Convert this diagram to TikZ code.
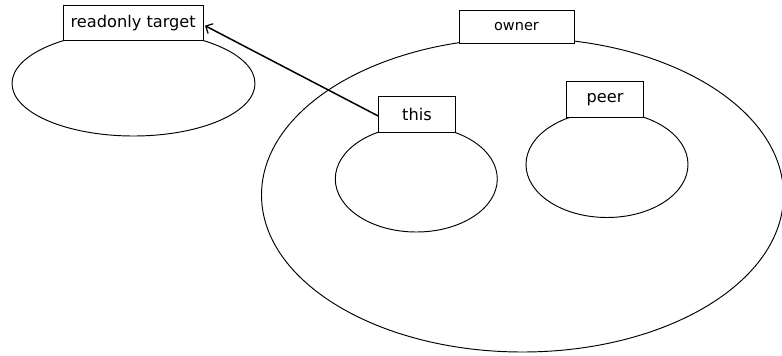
\documentclass[tikz,border=0pt]{standalone}
\usepackage{fontspec}
\setmainfont{DejaVu Sans}
\usetikzlibrary{shapes.geometric,arrows.meta}
\tikzset{
  region/.style={ellipse, draw, line width=0.95pt, inner sep=0pt},
  label box/.style={rectangle, draw, fill=white, line width=1pt, inner sep=0pt,
    font=\fontsize{16.2}{18}\selectfont},
  ref arrow/.style={line width=1.5pt, -{Straight Barb[length=5.5pt,width=11pt,line width=1.2pt]}}
}
\begin{document}
\begin{tikzpicture}[x=1pt,y=-1pt]
\useasboundingbox (0,0) rectangle (782,356);
% regions
\node[region, minimum width=243pt, minimum height=105pt] (targetreg) at (133.5,83.5) {};
\node[region, minimum width=522pt, minimum height=314pt] (ownerreg) at (522.5,195) {};
\node[region, minimum width=162pt, minimum height=106pt] (thisreg) at (416.3,179) {};
\node[region, minimum width=162pt, minimum height=106pt] (peerreg) at (607,164.5) {};
% labels
\node[label box, minimum width=140pt, minimum height=35pt] (target) at (133.2,23.2) {readonly target};
\node[label box, minimum width=115pt, minimum height=33pt, font=\fontsize{14.5}{16}\selectfont] (owner) at (516.5,27) {owner};
\node[label box, minimum width=76.6pt, minimum height=36pt] (this) at (417,114.7) {this};
\node[label box, minimum width=76.6pt, minimum height=36pt] (peer) at (605,99.7) {peer};
% reference
\draw[ref arrow, shorten >=1.5pt] ([yshift=-1.3pt]this.west) -- ([yshift=-1.8pt]target.east);
\end{tikzpicture}
\end{document}
